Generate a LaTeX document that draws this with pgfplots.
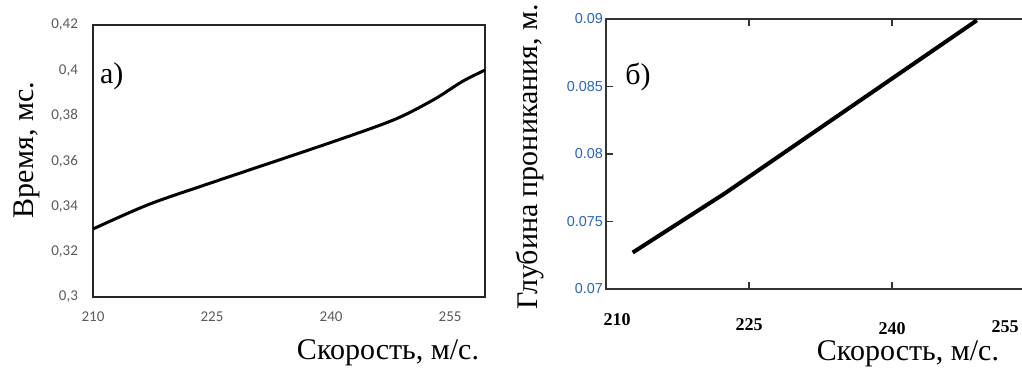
\documentclass[border=0pt]{standalone}
\usepackage{pgfplots}
\pgfplotsset{compat=1.18}
\usepackage{fontspec}
\setmainfont{Liberation Serif}
\newfontfamily\calibrifont{Carlito}
\newfontfamily\arialfont{Liberation Sans}
\definecolor{ticka}{RGB}{89,89,89}
\definecolor{tickb}{RGB}{40,100,180}
\begin{document}
\begin{tikzpicture}
\path[use as bounding box] (0,0) rectangle (511pt,187pt);
\begin{axis}[
  at={(46.5pt,38.5pt)}, anchor=south west,
  scale only axis, width=196pt, height=136pt,
  xmin=210, xmax=259.4, ymin=0.3, ymax=0.42,
  xtick={210,225,240,255},
  ytick={0.3,0.32,0.34,0.36,0.38,0.4,0.42},
  major tick length=0pt,
  axis line style={black!85, line width=0.75pt},
  tick label style={font=\calibrifont\fontsize{7.5}{9}\selectfont, text=ticka, /pgf/number format/assume math mode=true},
  yticklabel style={/pgf/number format/fixed, /pgf/number format/precision=2, /pgf/number format/use comma, xshift=-4pt},
  xticklabel style={yshift=-4pt},
  scaled y ticks=false,
  xlabel={Скорость, м/с.}, ylabel={Время, мс.},
  label style={font=\fontsize{15}{18}\selectfont},
  xlabel style={at={(axis description cs:0.7526,-0.2316)}, anchor=base},
  ylabel style={at={(axis description cs:-0.153,0.540)}, anchor=base},
]
\addplot[black, line width=1.5pt, smooth, tension=0.5] coordinates {
  (210,0.3300) (217,0.3408) (225,0.3505) (240,0.3682)
  (248,0.3783) (253,0.3872) (256.5,0.3950) (259.4,0.4001)
};
\node at (axis description cs:0.048,0.8125) {\fontsize{15}{18}\selectfont а)};
\end{axis}
\begin{axis}[
  at={(303pt,42.5pt)}, anchor=south west,
  scale only axis, width=224.03pt, height=135pt,
  xmin=210, xmax=257, ymin=0.07, ymax=0.09,
  xtick={210,225,240,255},
  ytick={0.07,0.075,0.08,0.085,0.09},
  xticklabels={{\hspace*{11pt}\raisebox{2.5pt}{210}},225,{\raisebox{-1.75pt}{240}},{\raisebox{-0.75pt}{255}\hspace*{30pt}}},
  tick align=inside, major tick length=3.5pt,
  ytick pos=left,
  tick style={black!80, line width=0.6pt},
  axis line style={black!80, line width=0.75pt},
  xticklabel style={font=\bfseries\fontsize{9}{11}\selectfont, anchor=base, yshift=-21pt},
  yticklabel style={font=\arialfont\fontsize{7.2}{9}\selectfont, text=tickb, /pgf/number format/fixed, /pgf/number format/precision=3, /pgf/number format/assume math mode=true, xshift=2pt},
  scaled y ticks=false,
  xlabel={Скорость, м/с.}, ylabel={Глубина проникания, м.},
  label style={font=\fontsize{15}{18}\selectfont},
  xlabel style={at={(axis description cs:0.674,-0.263)}, anchor=base},
  ylabel style={at={(axis description cs:-0.154,0.489)}, anchor=base},
]
\addplot[black, line width=2pt] coordinates {
  (212.8,0.0727) (222.5,0.0771) (248.9,0.0899)
};
\node at (axis description cs:0.0714,0.785) {\fontsize{15}{18}\selectfont б)};
\end{axis}
\end{tikzpicture}
\end{document}
